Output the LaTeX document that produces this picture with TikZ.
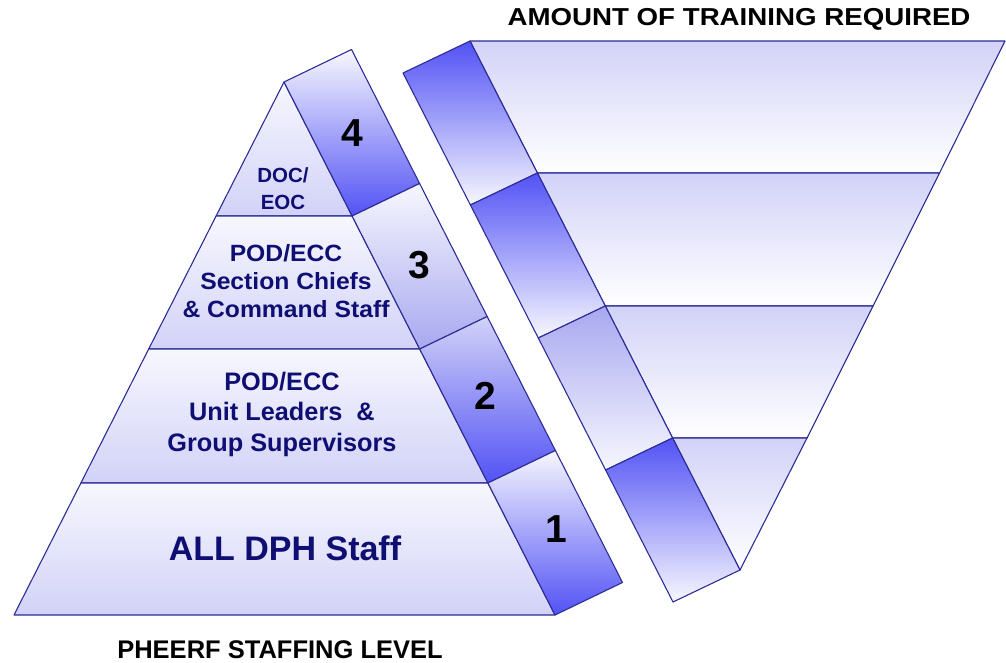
\documentclass[tikz,border=0pt]{standalone}
\usepackage{fontspec}
\setmainfont{Liberation Sans}
\usetikzlibrary{calc}
\definecolor{edge}{RGB}{45,45,150}
\definecolor{lav}{RGB}{210,210,248}
\definecolor{pale}{RGB}{247,247,254}
\definecolor{deep}{RGB}{82,82,245}
\definecolor{midblue}{RGB}{168,168,240}
\definecolor{navytext}{RGB}{15,15,115}
\begin{document}
\begin{tikzpicture}[x=1pt,y=-1pt,
  shp/.style 2 args={draw=edge, line width=1.1pt, line join=round, top color=#1, bottom color=#2},
  lbl/.style={text=navytext, font=\bfseries, align=center, inner sep=0pt},
  num/.style={text=black, font=\bfseries\fontsize{39}{39}\selectfont, inner sep=0pt},
  captxt/.style={text=black, font=\bfseries\fontsize{25.5}{27}\selectfont, inner sep=0pt}]
\useasboundingbox (0,0) rectangle (1006,663);
% pyramid corner points
\coordinate (A) at (284,82);
\coordinate (L3) at (216.1,216); \coordinate (R3) at (352.1,216);
\coordinate (L2) at (148.7,349); \coordinate (R2) at (419.7,349);
\coordinate (L1) at (80.9,483);  \coordinate (R1) at (487.9,483);
\coordinate (L0) at (14,615);    \coordinate (R0) at (555,615);
% pyramid levels
\path[shp={pale}{lav}] (A) -- (R3) -- (L3) -- cycle;
\path[shp={pale}{lav}] (L3) -- (R3) -- (R2) -- (L2) -- cycle;
\path[shp={pale}{lav}] (L2) -- (R2) -- (R1) -- (L1) -- cycle;
\path[shp={pale}{lav}] (L1) -- (R1) -- (R0) -- (L0) -- cycle;
% side band
\path[shp={pale}{deep}] (A) -- ($(A)+(67.5,-32.5)$) -- ($(R3)+(67.5,-32.5)$) -- (R3) -- cycle;
\path[shp={pale}{midblue}] (R3) -- ($(R3)+(67.5,-32.5)$) -- ($(R2)+(67.5,-32.5)$) -- (R2) -- cycle;
\path[shp={lav}{deep}] (R2) -- ($(R2)+(67.5,-32.5)$) -- ($(R1)+(67.5,-32.5)$) -- (R1) -- cycle;
\path[shp={pale}{deep}] (R1) -- ($(R1)+(67.5,-32.5)$) -- ($(R0)+(67.5,-32.5)$) -- (R0) -- cycle;
% funnel points
\coordinate (I4) at (470,41);    \coordinate (F4) at (1005,41);
\coordinate (I3) at (537.4,173); \coordinate (F3) at (939.5,173);
\coordinate (I2) at (605.3,306); \coordinate (F2) at (873,306);
\coordinate (I1) at (672.6,438); \coordinate (F1) at (807,438);
\coordinate (I0) at (740,570);
% funnel sections
\path[shp={lav}{white}] (I4) -- (F4) -- (F3) -- (I3) -- cycle;
\path[shp={lav}{white}] (I3) -- (F3) -- (F2) -- (I2) -- cycle;
\path[shp={lav}{white}] (I2) -- (F2) -- (F1) -- (I1) -- cycle;
\path[shp={lav}{white}] (I1) -- (F1) -- (I0) -- cycle;
% funnel strip
\path[shp={deep}{pale}] (I4) -- (I3) -- ($(I3)+(-67,32)$) -- ($(I4)+(-67,32)$) -- cycle;
\path[shp={deep}{pale}] (I3) -- (I2) -- ($(I2)+(-67,32)$) -- ($(I3)+(-67,32)$) -- cycle;
\path[shp={midblue}{pale}] (I2) -- (I1) -- ($(I1)+(-67,32)$) -- ($(I2)+(-67,32)$) -- cycle;
\path[shp={deep}{pale}] (I1) -- (I0) -- ($(I0)+(-67,32)$) -- ($(I1)+(-67,32)$) -- cycle;
% level labels
\node[lbl, font=\bfseries\fontsize{20.5}{27}\selectfont] (t4) at (283,189) {DOC/\\EOC};
\node[lbl, font=\bfseries\fontsize{23.5}{28}\selectfont, xscale=1.05] (t3) at (286,281) {POD/ECC\\Section Chiefs\\\& Command Staff};
\node[lbl, font=\bfseries\fontsize{25.3}{30.5}\selectfont] (t2) at (282,414) {POD/ECC\\Unit Leaders~~\&\\Group Supervisors};
\node[lbl, font=\bfseries\fontsize{34}{36}\selectfont] (t1) at (285,548) {ALL DPH Staff};
% numbers
\node[num] (n4) at (352,133) {4};
\node[num] (n3) at (419,265) {3};
\node[num] (n2) at (485,396) {2};
\node[num] (n1) at (556,529) {1};
% captions
\node[captxt, font=\bfseries\fontsize{24.5}{26}\selectfont, xscale=1.13] (title) at (739,19) {AMOUNT OF TRAINING REQUIRED};
\node[captxt] (xlabel) at (280,650) {PHEERF STAFFING LEVEL};
\end{tikzpicture}
\end{document}
